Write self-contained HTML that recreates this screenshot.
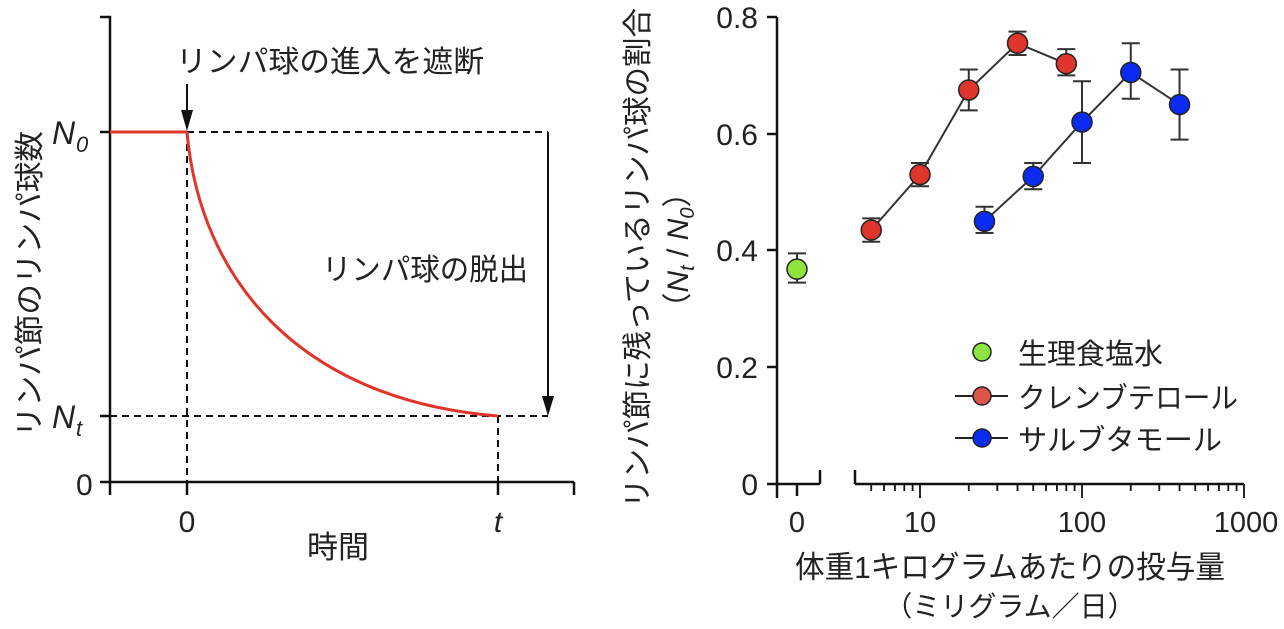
<!DOCTYPE html>
<html><head><meta charset="utf-8"><style>
body{margin:0;background:#fff;}
svg text{font-family:"Liberation Sans","Noto Sans CJK JP",sans-serif;fill:#222;}
</style></head><body>
<svg width="1284" height="624" viewBox="0 0 1284 624" xmlns="http://www.w3.org/2000/svg">
<!-- LEFT CHART -->
<g stroke="#111" stroke-width="2.5" fill="none">
<polyline points="100,17 110,17 110,495"/>
<line x1="100" y1="482" x2="574" y2="482"/>
<line x1="574" y1="482" x2="574" y2="495"/>
<line x1="187" y1="482" x2="187" y2="495"/>
<line x1="498" y1="482" x2="498" y2="495"/>
<line x1="100" y1="132" x2="110" y2="132"/>
<line x1="100" y1="416" x2="110" y2="416"/>
</g>
<g stroke="#111" stroke-width="2" stroke-dasharray="7,5" fill="none">
<line x1="187" y1="132" x2="548" y2="132"/>
<line x1="110" y1="416" x2="548" y2="416"/>
<line x1="187" y1="132" x2="187" y2="482"/>
<line x1="498" y1="416" x2="498" y2="482"/>
</g>
<line x1="548" y1="132" x2="548" y2="400" stroke="#111" stroke-width="2"/>
<polygon points="542,396 554,396 548,416" fill="#111"/>
<line x1="187" y1="84" x2="187" y2="112" stroke="#111" stroke-width="2"/>
<polygon points="181,110 193,110 187,131" fill="#111"/>
<line x1="110" y1="132" x2="187" y2="132" stroke="#e0352b" stroke-width="3"/>
<path d="M187,132 C200,280 300,400 498,416" stroke="#e0352b" stroke-width="3" fill="none"/>
<text x="176" y="72" font-size="30" textLength="308" lengthAdjust="spacingAndGlyphs">リンパ球の進入を遮断</text>
<text x="322" y="280" font-size="30" textLength="206" lengthAdjust="spacingAndGlyphs">リンパ球の脱出</text>
<text x="52" y="144" font-size="32" font-style="italic">N</text><text x="76" y="152" font-size="22" font-style="italic">0</text>
<text x="52" y="428" font-size="32" font-style="italic">N</text><text x="76" y="436" font-size="22" font-style="italic">t</text>
<text x="76" y="495" font-size="30">0</text>
<text x="187" y="532" font-size="30" text-anchor="middle">0</text>
<text x="498" y="532" font-size="30" text-anchor="middle" font-style="italic">t</text>
<text x="338" y="558" font-size="31" text-anchor="middle">時間</text>
<text transform="translate(40,284) rotate(-90)" font-size="30" text-anchor="middle" textLength="306" lengthAdjust="spacingAndGlyphs">リンパ節のリンパ球数</text>

<!-- RIGHT CHART -->
<g stroke="#111" stroke-width="2.5" fill="none">
<line x1="777" y1="17" x2="777" y2="498"/>
<line x1="767" y1="484" x2="820" y2="484"/>
<line x1="820" y1="484" x2="820" y2="470"/>
<line x1="797" y1="484" x2="797" y2="496"/>
<line x1="767" y1="17" x2="777" y2="17"/>
<line x1="767" y1="134" x2="777" y2="134"/>
<line x1="767" y1="250" x2="777" y2="250"/>
<line x1="767" y1="367" x2="777" y2="367"/>
<line x1="855" y1="484" x2="1244" y2="484"/>
<line x1="855" y1="470" x2="855" y2="484"/>
</g>
<g stroke="#111" stroke-width="1.8" id="ticks"></g>
<g font-size="30" text-anchor="end">
<text x="758" y="28">0.8</text>
<text x="758" y="145">0.6</text>
<text x="758" y="261">0.4</text>
<text x="758" y="378">0.2</text>
<text x="758" y="495">0</text>
</g>
<g font-size="29" text-anchor="middle">
<text x="797" y="532">0</text>
<text x="920" y="532">10</text>
<text x="1082" y="532">100</text>
<text x="1246" y="532">1000</text>
</g>
<text x="1010" y="578" font-size="31" text-anchor="middle" textLength="430" lengthAdjust="spacingAndGlyphs">体重1キログラムあたりの投与量</text>
<text x="1010" y="616" font-size="28" text-anchor="middle">（ミリグラム／日）</text>
<text transform="translate(648,258) rotate(-90)" font-size="30" text-anchor="middle" textLength="500" lengthAdjust="spacingAndGlyphs">リンパ節に残っているリンパ球の割合</text>
<text transform="translate(688,250) rotate(-90)" font-size="30" text-anchor="middle">（<tspan font-style="italic">N</tspan><tspan font-style="italic" font-size="20" dy="6">t</tspan><tspan dy="-6"> / </tspan><tspan font-style="italic">N</tspan><tspan font-style="italic" font-size="20" dy="6">0</tspan><tspan dy="-6">）</tspan></text>
<g id="data"></g>
<!-- legend -->
<circle cx="982" cy="352" r="9" fill="#8ee53f" stroke="#222" stroke-width="1.5"/>
<line x1="955" y1="396" x2="1008" y2="396" stroke="#222" stroke-width="2"/>
<circle cx="982" cy="396" r="9" fill="#e0554a" stroke="#222" stroke-width="1.5"/>
<line x1="955" y1="438" x2="1008" y2="438" stroke="#222" stroke-width="2"/>
<circle cx="982" cy="438" r="9" fill="#0a2cf0" stroke="#222" stroke-width="1.5"/>
<text x="1018" y="364" font-size="29">生理食塩水</text>
<text x="1018" y="408" font-size="29" textLength="220" lengthAdjust="spacingAndGlyphs">クレンブテロール</text>
<text x="1018" y="450" font-size="29" textLength="204" lengthAdjust="spacingAndGlyphs">サルブタモール</text>
</svg>
<script>
var ns="http://www.w3.org/2000/svg";
function el(p,t,a){var e=document.createElementNS(ns,t);for(var k in a)e.setAttribute(k,a[k]);p.appendChild(e);return e;}
var tk=document.getElementById('ticks');
function X(v){return 920+162*Math.log10(v/10);}
function Y(v){return 484-v*583.75;}
[1,10,100].forEach(function(d){for(var m=1;m<=9;m++){var v=d*m;if(v<4.2)continue;var x=X(v);var L=(m==1)?14:7;el(tk,'line',{x1:x,y1:484,x2:x,y2:484+L});}});
el(tk,'line',{x1:1244,y1:484,x2:1244,y2:498});
var dg=document.getElementById('data');
var red=[[5,.435,.415,.455],[10,.53,.51,.55],[20,.675,.64,.71],[40,.755,.735,.775],[80,.72,.70,.745]];
var blue=[[25,.45,.43,.475],[50,.527,.505,.55],[100,.62,.55,.69],[200,.705,.66,.755],[400,.65,.59,.71]];
function series(d,c){
 el(dg,'polyline',{points:d.map(function(p){return X(p[0])+','+Y(p[1]);}).join(' '),fill:'none',stroke:'#333','stroke-width':2});
 d.forEach(function(p){var x=X(p[0]);
  el(dg,'line',{x1:x,y1:Y(p[2]),x2:x,y2:Y(p[3]),stroke:'#333','stroke-width':2});
  el(dg,'line',{x1:x-9,y1:Y(p[2]),x2:x+9,y2:Y(p[2]),stroke:'#333','stroke-width':2});
  el(dg,'line',{x1:x-9,y1:Y(p[3]),x2:x+9,y2:Y(p[3]),stroke:'#333','stroke-width':2});});
 d.forEach(function(p){el(dg,'circle',{cx:X(p[0]),cy:Y(p[1]),r:10,fill:c,stroke:'#222','stroke-width':1.5});});
}
series(red,'#e0352b');series(blue,'#0a2cf0');
var gx=797;
el(dg,'line',{x1:gx,y1:Y(.345),x2:gx,y2:Y(.395),stroke:'#333','stroke-width':2});
el(dg,'line',{x1:gx-9,y1:Y(.345),x2:gx+9,y2:Y(.345),stroke:'#333','stroke-width':2});
el(dg,'line',{x1:gx-9,y1:Y(.395),x2:gx+9,y2:Y(.395),stroke:'#333','stroke-width':2});
el(dg,'circle',{cx:gx,cy:Y(.368),r:10,fill:'#8ee53f',stroke:'#222','stroke-width':1.5});
</script>
</body></html>
